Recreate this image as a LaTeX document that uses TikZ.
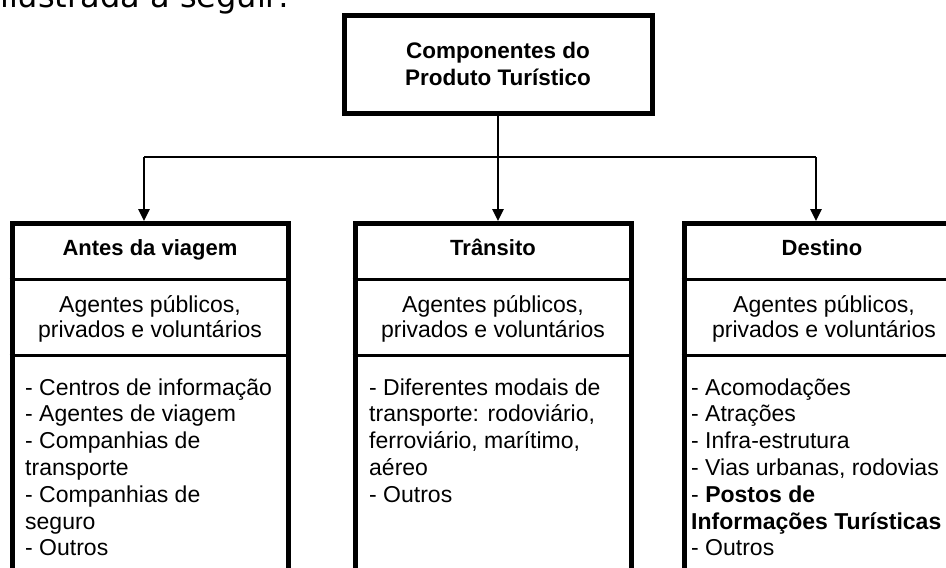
\documentclass[tikz,border=0pt]{standalone}
\usepackage{fontspec}
\setmainfont{Liberation Sans}
\newfontfamily\fragfont{DejaVu Sans}
\usetikzlibrary{arrows.meta}
\newcommand\agentsbox{\parbox[t]{268pt}{\centering\lineskiplimit=-40pt Agentes públicos,\\privados e voluntários}}
\newcommand\listbox[1]{\parbox[t]{262pt}{\raggedright\lineskiplimit=-40pt #1}}
\begin{document}
\begin{tikzpicture}[x=1pt,y=-1pt,
  topbox/.style={draw, line width=5pt, minimum width=308pt, minimum height=98pt, align=center,
    font=\fontsize{22.5}{27}\selectfont\bfseries, inner sep=0pt},
  colbox/.style={draw, line width=5pt, minimum width=276pt, minimum height=370pt, anchor=north, inner sep=0pt},
  sepline/.style={line width=3pt},
  conn/.style={line width=2.5pt},
  arr/.style={conn, -{Triangle[length=12pt,width=11pt]}},
  titletext/.style={anchor=base, font=\fontsize{22}{26}\selectfont\bfseries, inner sep=0pt},
  agtext/.style={anchor=base, font=\fontsize{23}{25.7}\selectfont, inner sep=0pt},
  listtext/.style={anchor=base west, inner sep=0pt, font=\fontsize{23}{26.8}\selectfont},
  fragtext/.style={anchor=base west, inner sep=0pt, font=\fragfont\fontsize{32}{38}\selectfont}
]
\useasboundingbox (0,0) rectangle (946,568);

% fragment of surrounding text, cut at the top as in the reference
\begin{scope}
\clip (0,0) rectangle (946,568);
\node[fragtext] (frag) at (0,7) {ilustrada a seguir:};
\end{scope}

% top box
\node[topbox] (top) at (498,64) {Componentes do\\Produto Turístico};

% columns
\node[colbox] (A) at (150,221) {};
\node[colbox] (B) at (493,221) {};
\node[colbox] (C) at (822,221) {};

\foreach \c in {A,B,C}{
  \draw[sepline] (\c.west |- 0,279) -- (\c.east |- 0,279);
  \draw[sepline] (\c.west |- 0,355) -- (\c.east |- 0,355);
}

% connectors
\coordinate (jL) at (144,157);
\coordinate (jR) at (816,157);
\draw[conn] (top.south) -- (top.south |- jL);
\draw[conn] (jL) -- (jR);
\draw[arr] (jL) -- (jL |- A.north);
\draw[arr] (top.south |- jL) -- (top.south |- B.north);
\draw[arr] (jR) -- (jR |- C.north);

% titles
\node[titletext] (At) at (150,255) {Antes da viagem};
\node[titletext] (Bt) at (493,255) {Trânsito};
\node[titletext] (Ct) at (822,255) {Destino};

% agents
\node[agtext] (Ag) at (150,312) {\agentsbox};
\node[agtext] (Bg) at (493,312) {\agentsbox};
\node[agtext] (Cg) at (824,312) {\agentsbox};

% lists
\node[listtext] (Al) at (25,395) {\listbox{- Centros de informação\\- Agentes de viagem\\- Companhias de\\transporte\\- Companhias de\\seguro\\- Outros}};
\node[listtext] (Bl) at (369,395) {\listbox{- Diferentes modais de\\transporte: rodoviário,\\ferroviário, marítimo,\\aéreo\\- Outros}};
\node[listtext] (Cl) at (691,395) {\listbox{- Acomodações\\- Atrações\\- Infra-estrutura\\- Vias urbanas, rodovias\\- \textbf{Postos de}\\\textbf{Informações Turísticas}\\- Outros}};
\end{tikzpicture}
\end{document}
